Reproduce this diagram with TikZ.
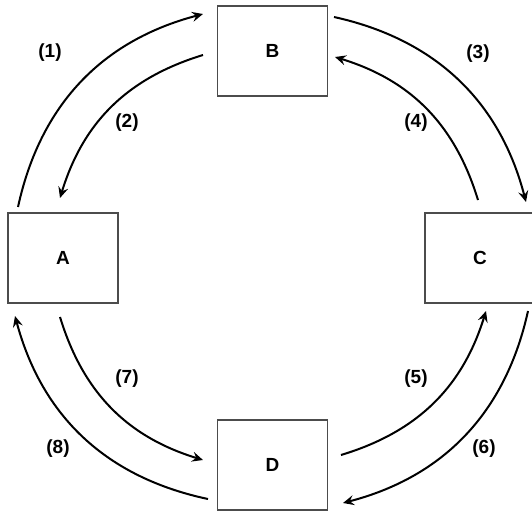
\documentclass[tikz,border=0pt]{standalone}
\usepackage{fontspec}
\setmainfont{Liberation Sans}
\usetikzlibrary{arrows.meta}
\begin{document}
\begin{tikzpicture}[x=1pt,y=1pt,
  box/.style={draw=black!70,line width=1.5pt,minimum width=110pt,minimum height=90pt,inner sep=0pt,font=\fontsize{19}{19}\selectfont\bfseries},
  lbl/.style={font=\fontsize{19}{19}\selectfont\bfseries},
  arr/.style={line width=2pt,-{Stealth[length=11pt,width=10pt,inset=4pt]}}]
\useasboundingbox (0,0) rectangle (532,512);
\node[box] (B) at (272.5,461) {B};
\node[box] (A) at (63,254) {A};
\node[box] (C) at (480,254) {C};
\node[box] (D) at (272.5,47) {D};
\coordinate (p1s) at (18,305);  \coordinate (p1e) at (203,498);
\coordinate (p2s) at (203,457); \coordinate (p2e) at (60,314);
\coordinate (p3s) at (334,495); \coordinate (p3e) at (526,310);
\coordinate (p4s) at (478,312); \coordinate (p4e) at (335,455);
\coordinate (p5s) at (341,57);  \coordinate (p5e) at (486,201);
\coordinate (p6s) at (528,201); \coordinate (p6e) at (343,9);
\coordinate (p7s) at (60,195);  \coordinate (p7e) at (203,52);
\coordinate (p8s) at (208,13);  \coordinate (p8e) at (15,196);
\draw[arr] (p1s) to[bend left=31.5] (p1e);
\draw[arr] (p2s) to[bend right=28] (p2e);
\draw[arr] (p3s) to[bend left=31.5] (p3e);
\draw[arr] (p4s) to[bend right=28] (p4e);
\draw[arr] (p5s) to[bend right=28] (p5e);
\draw[arr] (p6s) to[bend left=31.5] (p6e);
\draw[arr] (p7s) to[bend right=28] (p7e);
\draw[arr] (p8s) to[bend left=31.5] (p8e);
\node[lbl] (l1) at (50,459) {(1)};
\node[lbl] (l2) at (127,389) {(2)};
\node[lbl] (l3) at (478,458) {(3)};
\node[lbl] (l4) at (416,389) {(4)};
\node[lbl] (l5) at (416,133) {(5)};
\node[lbl] (l6) at (484,63) {(6)};
\node[lbl] (l7) at (127,133) {(7)};
\node[lbl] (l8) at (58,63) {(8)};
\end{tikzpicture}
\end{document}
